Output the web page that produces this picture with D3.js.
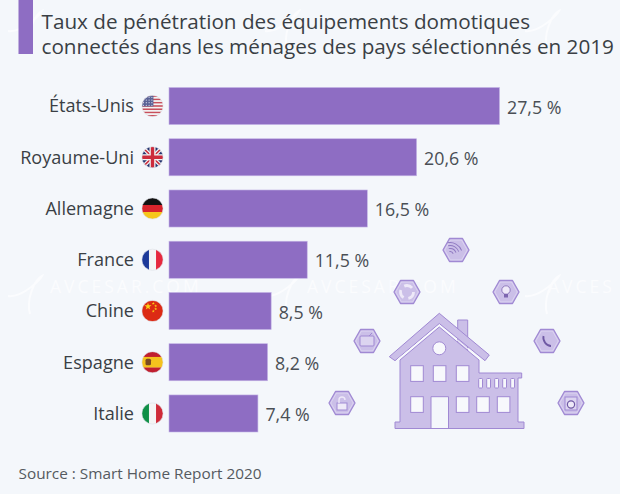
<!DOCTYPE html>
<html><head><meta charset="utf-8">
<script src="https://cdn.jsdelivr.net/npm/d3@7/dist/d3.min.js"></script>
<style>html,body{margin:0;padding:0;background:#f4f7fb}svg{display:block}text{font-family:"Open Sans",sans-serif}</style>
</head><body><div id="c"></div>
<script>
const categories=["États-Unis","Royaume-Uni","Allemagne","France","Chine","Espagne","Italie"];
const values=[27.5,20.6,16.5,11.5,8.5,8.2,7.4];
const valueLabels=["27,5 %","20,6 %","16,5 %","11,5 %","8,5 %","8,2 %","7,4 %"];
const flagCodes=["us","gb","de","fr","cn","es","it"];
const titleLines=["Taux de pénétration des équipements domotiques","connectés dans les ménages des pays sélectionnés en 2019"];
const sourceText="Source : Smart Home Report 2020";
const watermarkTexts=[[50,"AVCESAR.COM"],[307,"AVCESAR.COM"],[548,"AVCES"]];
const swirls=[[8,35],[265,35],[525,35],[8,300],[265,300],[525,300]];

const W=620,H=494,PURPLE="#8e6dc3",INK="#3a3f45",HOUSE="#cbbfe8",EDGE="#a089d3",WM="#fbfcfe";
const svg=d3.select("#c").append("svg").attr("width",W).attr("height",H);
svg.append("rect").attr("width",W).attr("height",H).attr("fill","#f4f7fb");

// watermark
const wm=svg.append("g");
wm.selectAll("text").data(watermarkTexts).join("text").attr("x",d=>d[0]).attr("y",293)
 .attr("font-size",17.5).attr("letter-spacing",3).attr("fill",WM).text(d=>d[1]);
wm.selectAll("path").data(swirls).join("path")
 .attr("d",d=>`M${d[0]},${d[1]-4}C${d[0]+14},${d[1]-2} ${d[0]+32},${d[1]-20} ${d[0]+34},${d[1]-24}C${d[0]+26},${d[1]-20} ${d[0]+18},${d[1]} ${d[0]+22},${d[1]+14}`)
 .attr("fill","none").attr("stroke",WM).attr("stroke-width",2);

// title
svg.append("rect").attr("x",18.5).attr("y",0).attr("width",14.5).attr("height",54).attr("fill",PURPLE);
svg.selectAll("text.t").data(titleLines).join("text").attr("class","t").attr("x",41.5)
 .attr("y",(d,i)=>29.3+i*25).attr("font-size",20.7).attr("fill",INK).text(d=>d);

// scales
const x=d3.scaleLinear().domain([0,27.5]).range([169,499.5]);
const y=d3.scaleBand().domain(categories).range([87.5,432]).paddingInner(.277).paddingOuter(0);

const rows=svg.selectAll("g.row").data(categories.map((c,i)=>({c,v:values[i],l:valueLabels[i],f:flagCodes[i]})))
 .join("g").attr("class","row");
rows.append("rect").attr("x",x(0)).attr("y",d=>y(d.c)).attr("width",d=>x(d.v)-x(0)).attr("height",y.bandwidth())
 .attr("fill",PURPLE).attr("stroke","#c4b4e6").attr("stroke-width",.6);
rows.append("text").attr("x",134).attr("y",d=>y(d.c)+y.bandwidth()/2+6.4).attr("text-anchor","end")
 .attr("font-size",18.1).attr("fill",INK).text(d=>d.c);
rows.append("text").attr("x",d=>x(d.v)+7.5).attr("y",d=>y(d.c)+y.bandwidth()/2+7.6)
 .attr("font-size",17.8).attr("fill","#4a4f55").text(d=>d.l);

// flags
const defs=svg.append("defs");
const R=10.6,FX=152.5;
function stripesH(g,cols,w){let p=-R;cols.forEach((c,i)=>{const h=2*R*w[i];g.append("rect").attr("x",-R).attr("y",p).attr("width",2*R).attr("height",h+.2).attr("fill",c);p+=h;});}
function stripesV(g,cols){cols.forEach((c,i)=>g.append("rect").attr("x",-R+i*2*R/3).attr("y",-R).attr("width",2*R/3+.2).attr("height",2*R).attr("fill",c));}
const flagDraw={
 us(g){for(let i=0;i<13;i++)g.append("rect").attr("x",-R).attr("y",-R+i*2*R/13).attr("width",2*R).attr("height",2*R/13+.1).attr("fill",i%2?"#f3f3f3":"#c8505c");
  g.append("rect").attr("x",-R).attr("y",-R).attr("width",11.5).attr("height",11).attr("fill","#5a6296");
  for(let a=0;a<4;a++)for(let b=0;b<4;b++)g.append("circle").attr("cx",-9+b*2.8).attr("cy",-8.5+a*2.6).attr("r",.6).attr("fill","#dfe1ee");},
 gb(g){g.append("rect").attr("x",-R).attr("y",-R).attr("width",2*R).attr("height",2*R).attr("fill","#25346f");
  g.append("path").attr("d",`M${-R},${-R}L${R},${R}M${R},${-R}L${-R},${R}`).attr("stroke","#f2f2f2").attr("stroke-width",4);
  g.append("path").attr("d",`M${-R},${-R}L${R},${R}M${R},${-R}L${-R},${R}`).attr("stroke","#cc2b3c").attr("stroke-width",1.5);
  g.append("path").attr("d",`M0,${-R}V${R}M${-R},0H${R}`).attr("stroke","#f2f2f2").attr("stroke-width",6);
  g.append("path").attr("d",`M0,${-R}V${R}M${-R},0H${R}`).attr("stroke","#cc2b3c").attr("stroke-width",3.4);},
 de(g){stripesH(g,["#111","#d8242c","#f6c61b"],[1/3,1/3,1/3]);},
 fr(g){stripesV(g,["#1d3a9a","#f5f5f5","#e6293e"]);},
 cn(g){g.append("rect").attr("x",-R).attr("y",-R).attr("width",2*R).attr("height",2*R).attr("fill","#dc2a14");
  const star=d3.symbol().type(d3.symbolStar);
  g.append("path").attr("d",star.size(16)()).attr("transform","translate(-4.5,-4.5)").attr("fill","#fbd116");
  [[.8,-7.5],[3.2,-5],[3.2,-2],[.8,.2]].forEach(p=>g.append("path").attr("d",star.size(3)()).attr("transform",`translate(${p[0]},${p[1]})`).attr("fill","#fbd116"));},
 es(g){stripesH(g,["#c01f2f","#f4c21d","#c01f2f"],[.25,.5,.25]);
  g.append("rect").attr("x",-7).attr("y",-3.5).attr("width",5.5).attr("height",6.5).attr("rx",1.5).attr("fill","#7a4a22");},
 it(g){stripesV(g,["#0f9047","#f5f5f5","#cf2b38"]);}
};
categories.forEach((c,i)=>{
 defs.append("clipPath").attr("id","f"+i).append("circle").attr("r",R);
 const cy=y(c)+y.bandwidth()/2;
 const g=svg.append("g").attr("transform",`translate(${FX},${cy})`);
 const inner=g.append("g").attr("clip-path",`url(#f${i})`);
 flagDraw[flagCodes[i]](inner);
 g.append("circle").attr("r",R).attr("fill","none").attr("stroke","#dde0e8").attr("stroke-width",.6);
});

// illustration: hexagons
const hexes=[[456,250],[407,292],[506,292],[367,341],[547,341],[342,403],[571,403]];
const hexPath=(cx,cy,s=1)=>`M${cx-13*s},${cy}L${cx-6.5*s},${cy-11.5*s}H${cx+6.5*s}L${cx+13*s},${cy}L${cx+6.5*s},${cy+11.5*s}H${cx-6.5*s}Z`;
const hg=svg.append("g");
hg.selectAll("path.o").data(hexes).join("path").attr("class","o").attr("d",d=>hexPath(d[0],d[1])).attr("fill",HOUSE).attr("stroke",EDGE).attr("stroke-width",1.3).attr("stroke-linejoin","round");
hg.selectAll("path.i").data(hexes).join("path").attr("class","i").attr("d",d=>hexPath(d[0],d[1],.86)).attr("fill","none").attr("stroke","#e2dbf4").attr("stroke-width",.7);
const ic=EDGE;
// wifi
[3,6,9,12].forEach(r=>hg.append("path").attr("d",d3.arc().innerRadius(r).outerRadius(r+.9).startAngle(-.2).endAngle(1.2)()).attr("transform","translate(450,255)").attr("fill","#8e78c0"));
// arrows ring
hg.append("circle").attr("cx",407).attr("cy",292).attr("r",6.5).attr("fill","none").attr("stroke","#eee9f8").attr("stroke-width",2.8).attr("stroke-dasharray","8.5 5");
// bulb
hg.append("circle").attr("cx",506).attr("cy",290).attr("r",4.2).attr("fill","#eee9f8").attr("stroke","#7d66b0").attr("stroke-width",.8);
hg.append("rect").attr("x",504).attr("y",294).attr("width",4).attr("height",3.5).attr("fill","#7d66b0");
// tv
hg.append("rect").attr("x",360).attr("y",336).attr("width",14).attr("height",10).attr("rx",1).attr("fill","#dcd4f0").attr("stroke",ic);
hg.append("path").attr("d","M369,336l3,-3").attr("stroke",ic);
// phone
hg.append("path").attr("d","M543.5,336c-1,5 3,10 7.5,10").attr("fill","none").attr("stroke","#6f59a4").attr("stroke-width",1.8);
// lock
hg.append("rect").attr("x",337).attr("y",403).attr("width",10).attr("height",7).attr("fill","#eee9f8").attr("stroke",ic);
hg.append("path").attr("d","M339,403v-3a3,3 0 0 1 6,0").attr("fill","none").attr("stroke","#eee9f8").attr("stroke-width",1.4);
// washer
hg.append("rect").attr("x",565).attr("y",397).attr("width",12).attr("height",13).attr("fill","#dcd4f0").attr("stroke",ic);
hg.append("circle").attr("cx",571).attr("cy",404.5).attr("r",3.6).attr("fill","#eee9f8").attr("stroke","#6f59a4").attr("stroke-width",1.2);

// house
const h=svg.append("g").attr("fill",HOUSE).attr("stroke",EDGE).attr("stroke-width",1).attr("stroke-linejoin","round");
h.append("path").attr("d","M457.7,340V320H467.7V352L457.7,345Z");
h.append("path").attr("d","M400,360L439.3,327L479,360V373H521.7V378H518V422H524V428.5H395V422H400Z");
h.append("path").attr("d","M439.3,313.3L489.3,355L485,360.7L439.3,323.5L395,360.7L389.3,356.7Z");
h.append("path").attr("d","M397,360L439.3,325L481,360").attr("fill","none").attr("stroke","#fbfbff").attr("stroke-width",1);
const hw=svg.append("g").attr("fill","#f7f8fc").attr("stroke",EDGE).attr("stroke-width",1);
[[410.7,365.7],[433.3,365.7],[456.3,365.7],[410.7,396.7],[456.3,396.7],[476.7,396.7],[497.3,396.7]].forEach(p=>
 hw.append("rect").attr("x",p[0]).attr("y",p[1]).attr("width",12.6).attr("height",15.7));
[478.7,486.7,494.7,502.7,510.7].forEach(bx=>hw.append("rect").attr("x",bx).attr("y",378.5).attr("width",3.8).attr("height",9.5).attr("rx",.8));
hw.append("circle").attr("cx",439.3).attr("cy",348.3).attr("r",6.5);
hw.append("path").attr("d","M431,428V396.7H448.5V428").attr("fill","#f4f7fb");

// source
svg.append("text").attr("x",18.5).attr("y",478.5).attr("font-size",15.35).attr("fill","#555a60").text(sourceText);
</script></body></html>
